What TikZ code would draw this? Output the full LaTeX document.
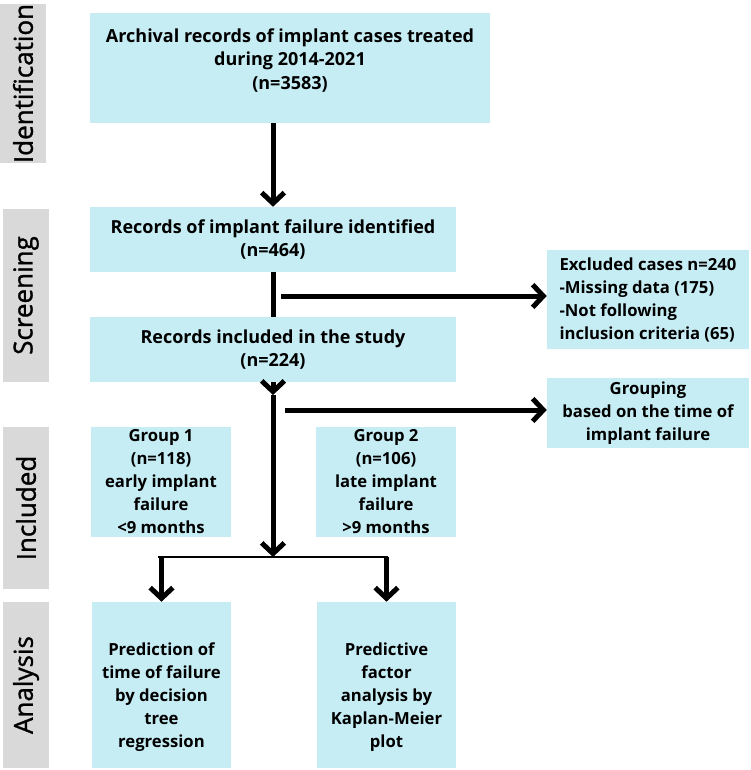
\documentclass[tikz,border=0pt]{standalone}
\usepackage{fontspec}
\setmainfont{Open Sans}
\newfontfamily\stagefont{Open Sans}[FakeBold=1.2]
\usetikzlibrary{arrows.meta, positioning}
\definecolor{boxcyan}{HTML}{C6EDF4}
\definecolor{stagegray}{HTML}{D9D9D9}
\newlength{\px}
\setlength{\px}{0.75pt}
\tikzstyle{block} = [fill=boxcyan, rectangle, align=center, inner sep=0pt, font=\fontsize{12.5}{17.25}\selectfont\bfseries]
\tikzstyle{bigblock} = [block, font=\fontsize{13.5}{17.75}\selectfont\bfseries]
\tikzstyle{stage} = [fill=stagegray, rectangle, rotate=90, inner sep=0pt, font=\fontsize{19.5}{22}\stagefont]
\tikzstyle{line} = [line width=3.75pt]
\tikzstyle{thinline} = [line width=2.2pt]

\begin{document}
\begin{tikzpicture}[x=0.75pt,y=-0.75pt,>={Straight Barb[length=8pt,width=17pt]}]
    \useasboundingbox (0,0) rectangle (750,770);
    % stage labels
    \node[stage, minimum width=159\px, minimum height=46\px] (ident) at (23,83.5) {Identification};
    \node[stage, minimum width=173\px, minimum height=46\px] (screen) at (26,295.5) {Screening};
    \node[stage, minimum width=162\px, minimum height=46\px] (incl) at (26,508) {Included};
    \node[stage, minimum width=166\px, minimum height=46\px] (anal) at (26,685) {Analysis};
    % flow boxes
    \node[bigblock, text depth=13.5pt, minimum width=400\px, minimum height=110\px] (arch) at (290,68) {Archival records of implant cases treated\\during 2014-2021\\(n=3583)};
    \node[bigblock, minimum width=366\px, minimum height=65\px] (fail) at (273,239.5) {Records of implant failure identified\\(n=464)};
    \node[bigblock, minimum width=366\px, minimum height=65\px] (study) at (273,349.5) {Records included in the study\\(n=224)};
    \node[block, align=left, minimum width=202\px, minimum height=99\px] (excl) at (648,299.5) {Excluded cases n=240\\-Missing data (175)\\-Not following\\inclusion criteria (65)};
    \node[block, minimum width=202\px, minimum height=70\px] (grp) at (648,413) {Grouping\\based on the time of\\implant failure};
    \node[block, minimum width=140\px, minimum height=110\px] (g1) at (161,482) {Group 1\\(n=118)\\early implant\\failure\\<9 months};
    \node[block, minimum width=140\px, minimum height=110\px] (g2) at (386,482) {Group 2\\(n=106)\\late implant\\failure\\>9 months};
    \node[block, text height=96pt, minimum width=139\px, minimum height=166\px] (dt) at (161.5,685) {Prediction of\\time of failure\\by decision\\tree\\regression};
    \node[block, text height=96pt, minimum width=139\px, minimum height=166\px] (km) at (386.5,685) {Predictive\\factor\\analysis by\\Kaplan-Meier\\plot};
    % connectors
    \coordinate (s1) at (281,296);
    \coordinate (m1) at (273,395);
    \coordinate (s2) at (285,410);
    \coordinate (split) at (273,557);
    \coordinate (l1) at (158,557);
    \coordinate (r1) at (388,557);
    \draw[line,->] (arch.south -| fail.north) -- (fail.north);
    \draw[line] (fail.south) -- (study.north);
    \draw[line,->] (s1) -- (s1 -| excl.west);
    \draw[line,->] (study.south) -- (m1);
    \draw[line,->] (m1) -- (split);
    \draw[line,->] (s2) -- (s2 -| grp.west);
    \draw[thinline] (l1) -- (r1);
    \draw[line,->] (l1 -| dt.north) -- (dt.north);
    \draw[line,->] (r1 -| km.north) -- (km.north);
\end{tikzpicture}
\end{document}
